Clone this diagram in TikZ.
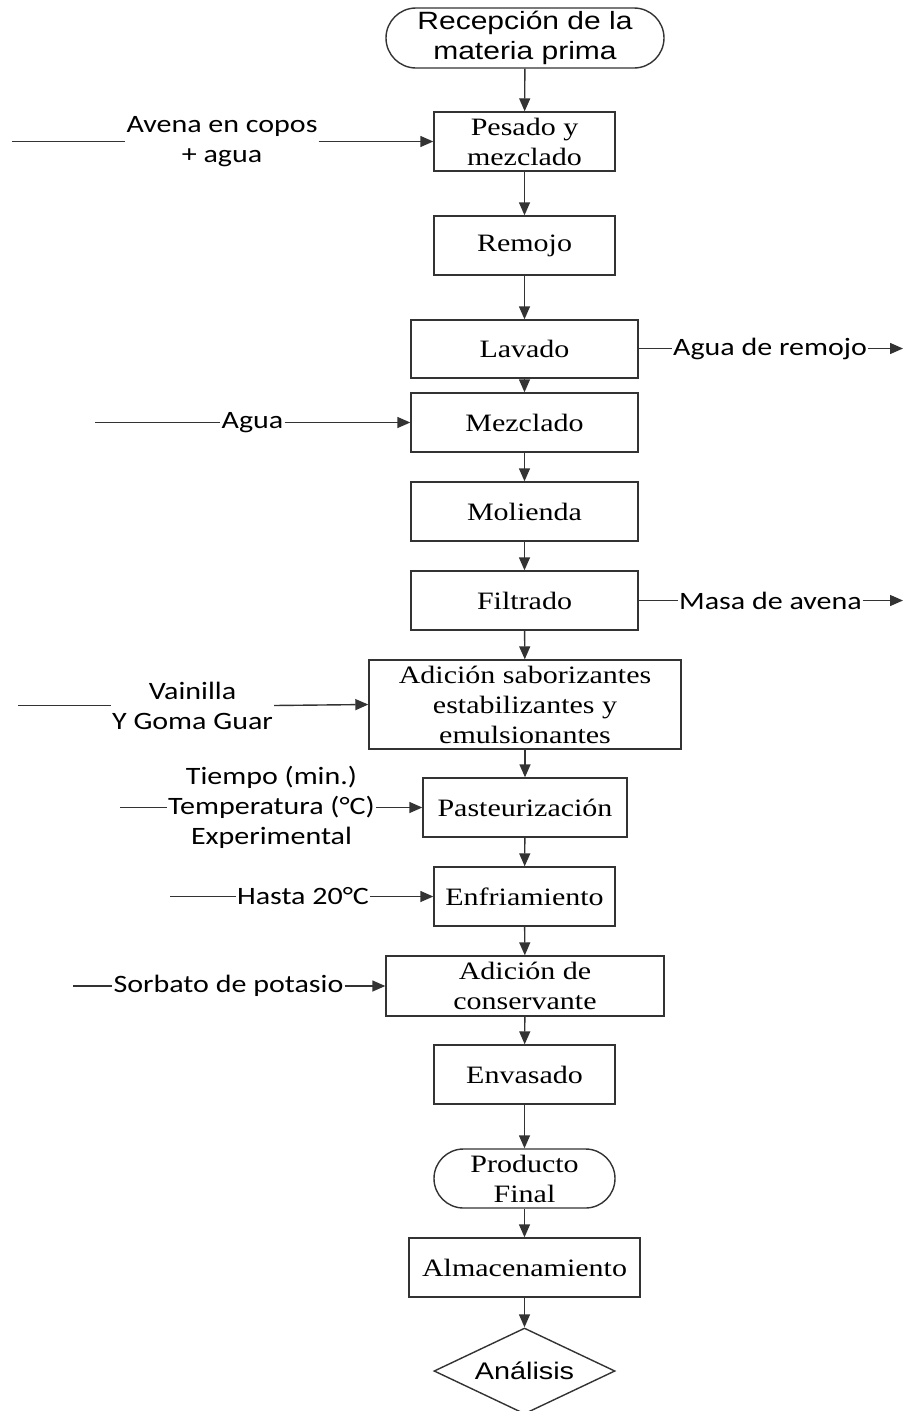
\documentclass[tikz,border=0pt]{standalone}
\usepackage{fontspec}
\setmainfont{Liberation Serif}[FakeStretch=1.2]
\newfontfamily\arialf{Liberation Sans}[FakeStretch=1.2]
\newfontfamily\calf{Carlito}[FakeStretch=1.2]
\usetikzlibrary{arrows.meta,shapes.geometric}
\tikzset{
  lc/.style={draw=black!80, line width=1.4pt},
  proc/.style={lc, rectangle, minimum height=59pt, inner sep=0pt, align=center,
    font=\fontsize{25}{30}\selectfont},
  stadium/.style={lc, rectangle, rounded corners=29.5pt, minimum height=59pt, inner sep=0pt, align=center},
  lbl/.style={inner sep=1pt, align=center, font=\calf\fontsize{25}{30}\selectfont},
  flow/.style={lc, -{Triangle[length=13pt,width=11pt]}},
  plain/.style={lc}
}
\begin{document}
\begin{tikzpicture}[x=1pt,y=-1pt]
\useasboundingbox (0,0) rectangle (904,1411);
\fill[white] (0,0) rectangle (904,1411);
% main column
\node[stadium, minimum width=278pt, minimum height=60pt, rounded corners=30pt, font=\arialf\fontsize{25}{30}\selectfont] (recep) at (525,38) {Recepción de la\\materia prima};
\node[proc, minimum width=181pt] (pesado) at (524.5,141.5) {Pesado y\\mezclado};
\node[proc, minimum width=181pt] (remojo) at (524.5,245.5) {Remojo};
\node[proc, minimum width=227pt, minimum height=58pt] (lavado) at (524.5,349) {Lavado};
\node[proc, minimum width=227pt] (mezclado) at (524.5,422.5) {Mezclado};
\node[proc, minimum width=227pt] (molienda) at (524.5,511.5) {Molienda};
\node[proc, minimum width=227pt] (filtrado) at (524.5,600.5) {Filtrado};
\node[proc, minimum width=312pt, minimum height=89pt] (adicion) at (525,704.5) {Adición saborizantes\\estabilizantes y\\emulsionantes};
\node[proc, minimum width=204pt] (pasteur) at (525,807.5) {Pasteurización};
\node[proc, minimum width=181pt] (enfri) at (524.5,896.5) {Enfriamiento};
\node[proc, minimum width=278pt, minimum height=60pt] (conserv) at (525,986) {Adición de\\conservante};
\node[proc, minimum width=181pt] (envasado) at (524.5,1074.5) {Envasado};
\node[stadium, minimum width=181pt, font=\fontsize{25}{30}\selectfont] (producto) at (524.5,1178.5) {Producto\\Final};
\node[proc, minimum width=231pt] (almac) at (524.5,1267.5) {Almacenamiento};
\node[lc, diamond, aspect=2.1, minimum width=181pt, minimum height=86pt, inner sep=0pt, font=\arialf\fontsize{24}{30}\selectfont] (analisis) at (524.5,1371) {Análisis};
% main flow
\draw[flow] (recep) -- (pesado);
\draw[flow] (pesado) -- (remojo);
\draw[flow] (remojo) -- (lavado);
\draw[flow] (lavado) -- (mezclado);
\draw[flow] (mezclado) -- (molienda);
\draw[flow] (molienda) -- (filtrado);
\draw[flow] (filtrado) -- (adicion);
\draw[flow] (adicion) -- (pasteur);
\draw[flow] (pasteur) -- (enfri);
\draw[flow] (enfri) -- (conserv);
\draw[flow] (conserv) -- (envasado);
\draw[flow] (envasado) -- (producto);
\draw[flow] (producto) -- (almac);
\draw[flow] (almac) -- (analisis);
% side inputs / outputs
\node[lbl] (avena) at (222,141.5) {Avena en copos\\+ agua};
\coordinate (avenaIn) at (12,141.5);
\draw[plain] (avenaIn) -- (avena.west);
\draw[flow] (avena.east) -- (pesado.west);

\node[lbl] (remojoOut) at (770,348.5) {Agua de remojo};
\coordinate (remojoEnd) at (903,348.5);
\draw[plain] (lavado.east |- remojoOut.west) -- (remojoOut.west);
\draw[flow] (remojoOut.east) -- (remojoEnd);

\node[lbl] (agua) at (252.5,422.5) {Agua};
\coordinate (aguaIn) at (95,422.5);
\draw[plain] (aguaIn) -- (agua.west);
\draw[flow] (agua.east) -- (mezclado.west);

\node[lbl] (masa) at (770.5,600.5) {Masa de avena};
\coordinate (masaEnd) at (903,600.5);
\draw[plain] (filtrado.east) -- (masa.west);
\draw[flow] (masa.east) -- (masaEnd);

\node[lbl] (vain) at (192.5,705.5) {Vainilla\\Y Goma Guar};
\coordinate (vainIn) at (18,705.5);
\draw[plain] (vainIn) -- (vain.west);
\draw[flow] (vain.east) -- (adicion.west);

\node[lbl] (tiempo) at (271.5,807.5) {Tiempo (min.)\\Temperatura (°C)\\Experimental};
\coordinate (tiempoIn) at (120,807.5);
\draw[plain] (tiempoIn) -- (tiempo.west);
\draw[flow] (tiempo.east) -- (pasteur.west);

\node[lbl] (hasta) at (303,896.5) {Hasta 20°C};
\coordinate (hastaIn) at (170,896.5);
\draw[plain] (hastaIn) -- (hasta.west);
\draw[flow] (hasta.east) -- (enfri.west);

\node[lbl] (sorbato) at (228.5,986) {Sorbato de potasio};
\coordinate (sorbatoIn) at (73,986);
\draw[plain] (sorbatoIn) -- (sorbato.west);
\draw[flow] (sorbato.east) -- (conserv.west);
\end{tikzpicture}
\end{document}
